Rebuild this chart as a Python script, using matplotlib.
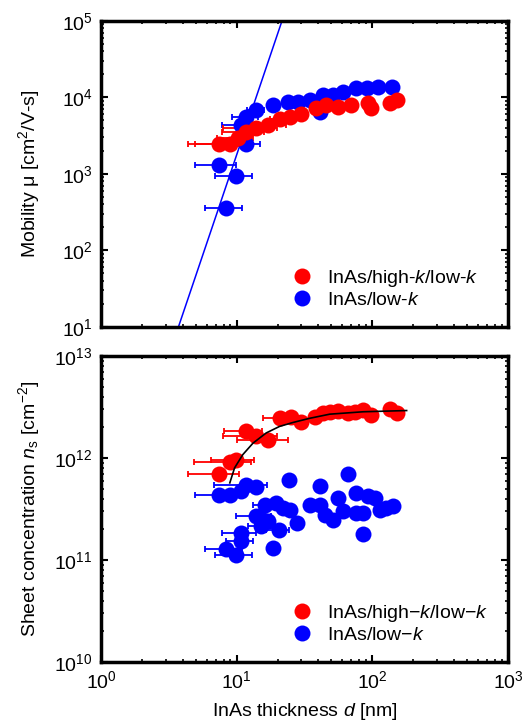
import matplotlib
matplotlib.use("Agg")
import matplotlib.pyplot as plt
from matplotlib.ticker import LogLocator, NullFormatter
import numpy as np

plt.rcParams['font.family'] = ['Liberation Sans', 'DejaVu Sans']
plt.rcParams['mathtext.fontset'] = 'custom'
plt.rcParams['mathtext.rm'] = 'Liberation Sans'
plt.rcParams['mathtext.it'] = 'Liberation Sans:italic'
plt.rcParams['mathtext.bf'] = 'Liberation Sans:bold'

# ---------------- Top panel: mobility ----------------
mu_red_d = [7.4, 8.9, 10.2, 11.8, 13.9, 17.0, 20.7, 24.6, 30.0, 38.7, 45.9, 55.9, 70.2, 93.1, 98.0, 135, 151]
mu_red = [2450, 2450, 2920, 3560, 3940, 4350, 5160, 5480, 6050, 7180, 7930, 7550, 7930, 8350, 7180, 8350, 9230]
mu_red_err = [3.0, 4.0, 3.0, 4.0, 6.0, 6.0, 3.0, 0, 0, 0, 0, 0, 0, 0, 0, 0, 0]

mu_blue_d = [7.39, 8.38, 9.93, 11.8, 10.8, 11.8, 13.9, 18.5, 23.9, 28.3, 34.5, 41.0, 43.3, 51.4, 60.8, 76.4, 90.6, 110, 139]
mu_blue = [1306, 356, 940, 2455, 4350, 5580, 6830, 7940, 8770, 8770, 9230, 6500, 10700, 10700, 11800, 13100, 13100, 13700, 13700]
mu_blue_err = [2.5, 2.5, 3.0, 3.0, 3.0, 2.5, 2.0, 0, 0, 0, 0, 0, 0, 0, 0, 0, 0, 0, 0]

line_d = [3.72, 21.6]
line_mu = [10, 1e5]

# ---------------- Bottom panel: sheet concentration ----------------
ns_red_d = [7.39, 8.86, 9.93, 11.8, 13.9, 17.0, 20.7, 25.3, 30.0, 37.6, 43.3, 48.5, 55.9, 66.3, 74.3, 85.5, 98.6, 135, 151]
ns_red = [7.03e11, 9.06e11, 9.6e11, 1.86e12, 1.65e12, 1.49e12, 2.46e12, 2.55e12, 2.23e12, 2.51e12, 2.76e12, 2.85e12, 2.92e12, 2.76e12, 2.8e12, 2.97e12, 2.65e12, 3.01e12, 2.76e12]
ns_red_err = [3.0, 4.0, 3.5, 3.7, 6.0, 7.0, 5.0, 0, 0, 0, 0, 0, 0, 0, 0, 0, 0, 0, 0]

ns_blue_d = [7.39, 8.86, 10.8, 11.8, 13.9, 16.1, 19.6, 21.9, 24.6, 24.3, 13.9, 15.6, 17.0, 15.2, 20.5, 27.8,
             10.8, 10.8, 8.38, 9.93, 18.5, 34.5, 41.0, 41.0, 44.6, 51.4, 55.9, 60.8, 66.3, 76.4, 76.4, 85.5,
             86.0, 93.1, 104, 114, 127, 143]
ns_blue = [4.38e11, 4.38e11, 4.71e11, 5.48e11, 5.2e11, 3.5e11, 3.64e11, 3.25e11, 3.12e11, 6.14e11, 2.69e11, 2.49e11, 2.4e11, 2.14e11, 1.95e11, 2.28e11,
           1.85e11, 1.53e11, 1.27e11, 1.11e11, 1.32e11, 3.5e11, 5.27e11, 3.5e11, 2.79e11, 2.49e11, 4.07e11, 3.0e11, 6.98e11, 4.55e11, 2.9e11, 2.9e11,
           1.78e11, 4.22e11, 4.07e11, 3.12e11, 3.25e11, 3.42e11]
ns_blue_err = [2.5, 0, 0, 5.0, 0, 3.0, 0, 0, 0, 0, 4.0, 0, 0, 3.0, 4.0, 0,
               3.0, 2.5, 2.5, 3.0, 1.5, 0, 0, 0, 0, 0, 0, 0, 0, 0, 0, 0,
               0, 0, 0, 0, 0, 0]

fit_d = [8.9, 9.65, 11.1, 13.2, 16.5, 20.7, 26.0, 34.5, 48.5, 85.5, 179]
fit_n = [5.7e11, 8.0e11, 1.08e12, 1.40e12, 1.76e12, 2.04e12, 2.23e12, 2.45e12, 2.69e12, 2.84e12, 2.92e12]

RED = '#FF0000'
BLUE = '#0000FF'
MS = 11.5
FS = 14

fig = plt.figure(figsize=(5.25, 7.27), dpi=100)
ax1 = fig.add_axes([0.1924, 0.5502, 0.7752, 0.4213])
ax2 = fig.add_axes([0.1924, 0.0894, 0.7752, 0.4209])


def draw_points(ax, d, v, err, color, label):
    d = np.array(d)
    v = np.array(v)
    err = np.array(err)
    m = err > 0
    ax.errorbar(d[m], v[m], xerr=err[m], fmt='none', ecolor=color, elinewidth=1.3,
                capsize=2.5, capthick=1.3, zorder=2)
    ax.plot(d, v, 'o', color=color, markersize=MS, markeredgewidth=0, zorder=3, label=label)


# top
ax1.plot(line_d, line_mu, '-', color=BLUE, lw=1.1, zorder=1)
draw_points(ax1, mu_blue_d, mu_blue, mu_blue_err, BLUE, None)
draw_points(ax1, mu_red_d, mu_red, mu_red_err, RED, None)
ax1.plot([], [], 'o', color=RED, markersize=MS, markeredgewidth=0, label='InAs/high-$\\it{k}$/low-$\\it{k}$')
ax1.plot([], [], 'o', color=BLUE, markersize=MS, markeredgewidth=0, label='InAs/low-$\\it{k}$')
ax1.set_yscale('log')
ax1.set_xscale('log')
ax1.set_xlim(1, 1000)
ax1.set_ylim(10, 1e5)
ax1.set_ylabel('Mobility μ [cm$^{2}$/V-s]', fontsize=FS)
ax1.yaxis.set_label_coords(-0.145, 0.5)
ax1.tick_params(labelbottom=False)
ax1.legend(loc='lower left', bbox_to_anchor=(0.447, 0.035), frameon=False, fontsize=FS,
           handletextpad=0.68, borderaxespad=0.0, labelspacing=0.1, handlelength=1.2)

# bottom
draw_points(ax2, ns_blue_d, ns_blue, ns_blue_err, BLUE, None)
draw_points(ax2, ns_red_d, ns_red, ns_red_err, RED, None)
ax2.plot(fit_d, fit_n, '-', color='black', lw=1.2, zorder=4)
ax2.plot([], [], 'o', color=RED, markersize=MS, markeredgewidth=0, label='InAs/high\u2212$\\it{k}$/low\u2212$\\it{k}$')
ax2.plot([], [], 'o', color=BLUE, markersize=MS, markeredgewidth=0, label='InAs/low\u2212$\\it{k}$')
ax2.set_yscale('log')
ax2.set_xscale('log')
ax2.set_xlim(1, 1000)
ax2.set_ylim(1e10, 1e13)
ax2.set_ylabel('Sheet concentration $\\it{n}_{\\rm s}$ [cm$^{-2}$]', fontsize=FS)
ax2.yaxis.set_label_coords(-0.145, 0.5)
ax2.set_xlabel('InAs thickness $\\it{d}$ [nm]', fontsize=FS, labelpad=6)
ax2.legend(loc='lower left', bbox_to_anchor=(0.447, 0.035), frameon=False, fontsize=FS,
           handletextpad=0.68, borderaxespad=0.0, labelspacing=0.1, handlelength=1.2)

for ax in (ax1, ax2):
    for s in ax.spines.values():
        s.set_linewidth(2.5)
    ax.xaxis.set_major_locator(LogLocator(base=10, numticks=10))
    ax.xaxis.set_minor_locator(LogLocator(base=10, subs=np.arange(2, 10), numticks=10))
    ax.yaxis.set_major_locator(LogLocator(base=10, numticks=10))
    ax.yaxis.set_minor_locator(LogLocator(base=10, subs=np.arange(2, 10), numticks=10))
    ax.xaxis.set_minor_formatter(NullFormatter())
    ax.yaxis.set_minor_formatter(NullFormatter())
    ax.tick_params(which='both', direction='in', top=True, right=True, labelsize=FS)
    ax.tick_params(which='major', length=5, width=1.5, pad=6)
    ax.tick_params(which='minor', length=2.5, width=1.2)

fig.savefig('out.png', dpi=100)
